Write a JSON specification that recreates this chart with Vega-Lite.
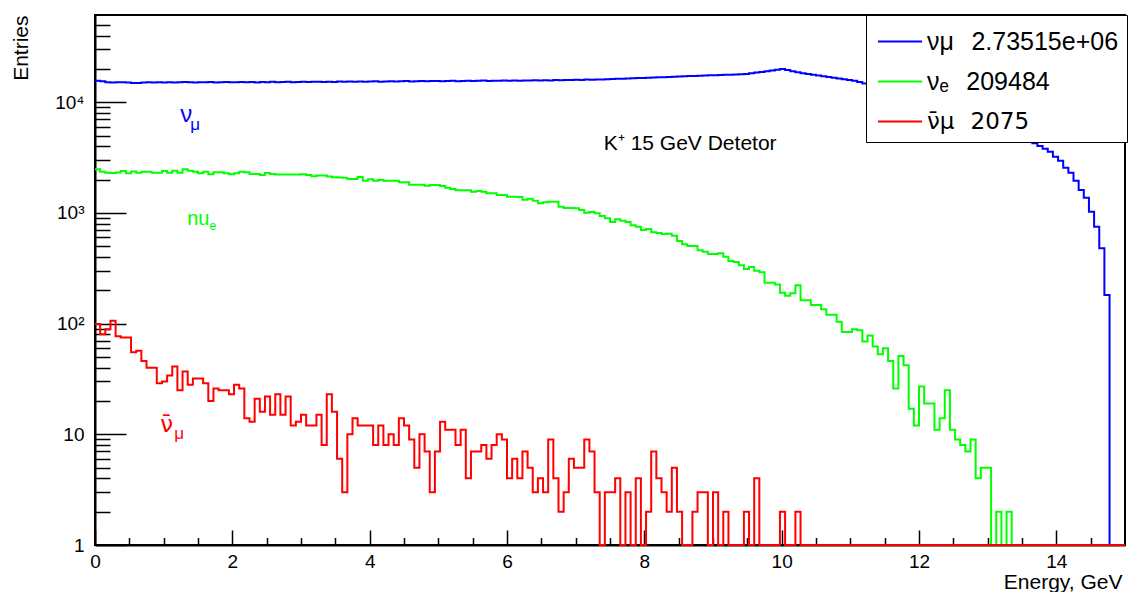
{
  "$schema": "https://vega.github.io/schema/vega-lite/v6.json",
  "width": 1030,
  "height": 530,
  "autosize": "none",
  "padding": {"left": 95, "top": 15, "right": 6, "bottom": 47},
  "background": "white",
  "config": {
    "view": {"stroke": "black", "strokeWidth": 2},
    "font": "Liberation Sans",
    "axis": {"grid": false, "domainColor": "black", "tickColor": "black", "labelColor": "black", "titleColor": "black", "domainWidth": 2, "tickWidth": 1.5, "labelFont": "Liberation Sans", "titleFont": "Liberation Sans", "titleFontWeight": "normal", "zindex": 0, "labelOverlap": false, "labelFlush": false}
  },
  "datasets": {
    "hist": [
      {"E":0,"numu":15620,"nue":2480,"anumu":99},
      {"E":0.075,"numu":15480,"nue":2350,"anumu":80},
      {"E":0.15,"numu":15150,"nue":2310,"anumu":89},
      {"E":0.225,"numu":15100,"nue":2300,"anumu":106},
      {"E":0.3,"numu":15180,"nue":2320,"anumu":77},
      {"E":0.375,"numu":15120,"nue":2390,"anumu":75},
      {"E":0.45,"numu":15060,"nue":2280,"anumu":75},
      {"E":0.525,"numu":14950,"nue":2370,"anumu":55},
      {"E":0.6,"numu":14900,"nue":2310,"anumu":57},
      {"E":0.675,"numu":15100,"nue":2360,"anumu":46},
      {"E":0.75,"numu":15140,"nue":2350,"anumu":40},
      {"E":0.825,"numu":15080,"nue":2310,"anumu":40},
      {"E":0.9,"numu":15190,"nue":2310,"anumu":29},
      {"E":0.975,"numu":15110,"nue":2390,"anumu":30},
      {"E":1.05,"numu":15170,"nue":2310,"anumu":34},
      {"E":1.125,"numu":15080,"nue":2410,"anumu":41},
      {"E":1.2,"numu":15150,"nue":2310,"anumu":25},
      {"E":1.275,"numu":15230,"nue":2480,"anumu":37},
      {"E":1.35,"numu":15120,"nue":2400,"anumu":28},
      {"E":1.425,"numu":15090,"nue":2350,"anumu":32},
      {"E":1.5,"numu":15180,"nue":2280,"anumu":32},
      {"E":1.575,"numu":15140,"nue":2350,"anumu":29},
      {"E":1.65,"numu":15210,"nue":2240,"anumu":20},
      {"E":1.725,"numu":15080,"nue":2330,"anumu":26},
      {"E":1.8,"numu":15160,"nue":2330,"anumu":25},
      {"E":1.875,"numu":15230,"nue":2280,"anumu":25},
      {"E":1.95,"numu":15120,"nue":2240,"anumu":23},
      {"E":2.025,"numu":15190,"nue":2280,"anumu":28},
      {"E":2.1,"numu":15260,"nue":2350,"anumu":26},
      {"E":2.175,"numu":15140,"nue":2330,"anumu":14},
      {"E":2.25,"numu":15200,"nue":2250,"anumu":13},
      {"E":2.325,"numu":15110,"nue":2250,"anumu":21},
      {"E":2.4,"numu":15250,"nue":2200,"anumu":16},
      {"E":2.475,"numu":15180,"nue":2300,"anumu":22},
      {"E":2.55,"numu":15290,"nue":2250,"anumu":15},
      {"E":2.625,"numu":15150,"nue":2230,"anumu":23},
      {"E":2.7,"numu":15230,"nue":2230,"anumu":15},
      {"E":2.775,"numu":15300,"nue":2230,"anumu":22},
      {"E":2.85,"numu":15180,"nue":2230,"anumu":12},
      {"E":2.925,"numu":15260,"nue":2230,"anumu":13},
      {"E":3.0,"numu":15320,"nue":2240,"anumu":15},
      {"E":3.075,"numu":15220,"nue":2200,"anumu":12},
      {"E":3.15,"numu":15290,"nue":2150,"anumu":12},
      {"E":3.225,"numu":15350,"nue":2180,"anumu":15},
      {"E":3.3,"numu":15240,"nue":2180,"anumu":8},
      {"E":3.375,"numu":15310,"nue":2130,"anumu":23},
      {"E":3.45,"numu":15200,"nue":2100,"anumu":16},
      {"E":3.525,"numu":15380,"nue":2090,"anumu":6},
      {"E":3.6,"numu":15300,"nue":2080,"anumu":3},
      {"E":3.675,"numu":15360,"nue":2024,"anumu":10},
      {"E":3.75,"numu":15280,"nue":2024,"anumu":14},
      {"E":3.825,"numu":15410,"nue":2110,"anumu":12},
      {"E":3.9,"numu":15330,"nue":1955,"anumu":12},
      {"E":3.975,"numu":15390,"nue":2013,"anumu":12},
      {"E":4.05,"numu":15450,"nue":1955,"anumu":8},
      {"E":4.125,"numu":15340,"nue":1982,"anumu":12},
      {"E":4.2,"numu":15420,"nue":1955,"anumu":8},
      {"E":4.275,"numu":15480,"nue":1955,"anumu":10},
      {"E":4.35,"numu":15390,"nue":1955,"anumu":8},
      {"E":4.425,"numu":15460,"nue":1890,"anumu":14},
      {"E":4.5,"numu":15520,"nue":1890,"anumu":12},
      {"E":4.575,"numu":15410,"nue":1798,"anumu":9},
      {"E":4.65,"numu":15490,"nue":1798,"anumu":5},
      {"E":4.725,"numu":15550,"nue":1798,"anumu":10},
      {"E":4.8,"numu":15440,"nue":1762,"anumu":7},
      {"E":4.875,"numu":15520,"nue":1789,"anumu":3},
      {"E":4.95,"numu":15580,"nue":1789,"anumu":7},
      {"E":5.025,"numu":15480,"nue":1750,"anumu":13},
      {"E":5.1,"numu":15560,"nue":1690,"anumu":11},
      {"E":5.175,"numu":15620,"nue":1644,"anumu":11},
      {"E":5.25,"numu":15510,"nue":1600,"anumu":8},
      {"E":5.325,"numu":15590,"nue":1600,"anumu":11},
      {"E":5.4,"numu":15650,"nue":1600,"anumu":4},
      {"E":5.475,"numu":15540,"nue":1555,"anumu":7},
      {"E":5.55,"numu":15620,"nue":1580,"anumu":7},
      {"E":5.625,"numu":15680,"nue":1555,"anumu":8},
      {"E":5.7,"numu":15570,"nue":1503,"anumu":6},
      {"E":5.775,"numu":15650,"nue":1503,"anumu":8},
      {"E":5.85,"numu":15600,"nue":1452,"anumu":10},
      {"E":5.925,"numu":15700,"nue":1452,"anumu":9},
      {"E":6.0,"numu":15640,"nue":1400,"anumu":4},
      {"E":6.075,"numu":15720,"nue":1400,"anumu":6},
      {"E":6.15,"numu":15660,"nue":1392,"anumu":4},
      {"E":6.225,"numu":15750,"nue":1316,"anumu":7},
      {"E":6.3,"numu":15690,"nue":1345,"anumu":5},
      {"E":6.375,"numu":15780,"nue":1288,"anumu":3},
      {"E":6.45,"numu":15720,"nue":1221,"anumu":4},
      {"E":6.525,"numu":15810,"nue":1246,"anumu":3},
      {"E":6.6,"numu":15760,"nue":1263,"anumu":9},
      {"E":6.675,"numu":15850,"nue":1263,"anumu":4},
      {"E":6.75,"numu":15800,"nue":1135,"anumu":2},
      {"E":6.825,"numu":15890,"nue":1107,"anumu":3},
      {"E":6.9,"numu":15860,"nue":1107,"anumu":6},
      {"E":6.975,"numu":15950,"nue":1100,"anumu":5},
      {"E":7.05,"numu":15920,"nue":1062,"anumu":5},
      {"E":7.125,"numu":16010,"nue":1004,"anumu":9},
      {"E":7.2,"numu":15980,"nue":1019,"anumu":7},
      {"E":7.275,"numu":16080,"nue":991,"anumu":3},
      {"E":7.35,"numu":16060,"nue":937,"anumu":0},
      {"E":7.425,"numu":16150,"nue":893,"anumu":3},
      {"E":7.5,"numu":16200,"nue":827,"anumu":3},
      {"E":7.575,"numu":16260,"nue":875,"anumu":4},
      {"E":7.65,"numu":16310,"nue":851,"anumu":0},
      {"E":7.725,"numu":16390,"nue":827,"anumu":3},
      {"E":7.8,"numu":16440,"nue":773,"anumu":0},
      {"E":7.875,"numu":16520,"nue":750,"anumu":4},
      {"E":7.95,"numu":16580,"nue":701,"anumu":0},
      {"E":8.025,"numu":16640,"nue":716,"anumu":2},
      {"E":8.1,"numu":16720,"nue":668,"anumu":7},
      {"E":8.175,"numu":16790,"nue":658,"anumu":4},
      {"E":8.25,"numu":16850,"nue":645,"anumu":3},
      {"E":8.325,"numu":16930,"nue":649,"anumu":2},
      {"E":8.4,"numu":17000,"nue":622,"anumu":5},
      {"E":8.475,"numu":17080,"nue":557,"anumu":2},
      {"E":8.55,"numu":17150,"nue":520,"anumu":0},
      {"E":8.625,"numu":17230,"nue":502,"anumu":0},
      {"E":8.7,"numu":17300,"nue":502,"anumu":2},
      {"E":8.775,"numu":17360,"nue":459,"anumu":3},
      {"E":8.85,"numu":17420,"nue":446,"anumu":3},
      {"E":8.925,"numu":17490,"nue":426,"anumu":0},
      {"E":9.0,"numu":17550,"nue":426,"anumu":3},
      {"E":9.075,"numu":17620,"nue":432,"anumu":0},
      {"E":9.15,"numu":17680,"nue":402,"anumu":2},
      {"E":9.225,"numu":17750,"nue":367,"anumu":0},
      {"E":9.3,"numu":17820,"nue":360,"anumu":0},
      {"E":9.375,"numu":17900,"nue":336,"anumu":0},
      {"E":9.45,"numu":18000,"nue":311,"anumu":2},
      {"E":9.525,"numu":18250,"nue":324,"anumu":0},
      {"E":9.6,"numu":18520,"nue":301,"anumu":4},
      {"E":9.675,"numu":18800,"nue":291,"anumu":0},
      {"E":9.75,"numu":19100,"nue":234,"anumu":0},
      {"E":9.825,"numu":19400,"nue":234,"anumu":0},
      {"E":9.9,"numu":19700,"nue":226,"anumu":0},
      {"E":9.975,"numu":19960,"nue":190,"anumu":2},
      {"E":10.05,"numu":19530,"nue":179,"anumu":0},
      {"E":10.125,"numu":19100,"nue":188,"anumu":0},
      {"E":10.2,"numu":18680,"nue":222,"anumu":2},
      {"E":10.275,"numu":18250,"nue":163,"anumu":0},
      {"E":10.35,"numu":17960,"nue":163,"anumu":0},
      {"E":10.425,"numu":17680,"nue":147,"anumu":0},
      {"E":10.5,"numu":17420,"nue":147,"anumu":0},
      {"E":10.575,"numu":17170,"nue":135,"anumu":0},
      {"E":10.65,"numu":16900,"nue":120,"anumu":0},
      {"E":10.725,"numu":16650,"nue":120,"anumu":0},
      {"E":10.8,"numu":16400,"nue":104,"anumu":0},
      {"E":10.875,"numu":16150,"nue":84,"anumu":0},
      {"E":10.95,"numu":15880,"nue":84,"anumu":0},
      {"E":11.025,"numu":15630,"nue":89,"anumu":0},
      {"E":11.1,"numu":15250,"nue":87,"anumu":0},
      {"E":11.175,"numu":14800,"nue":69,"anumu":0},
      {"E":11.25,"numu":14450,"nue":78,"anumu":0},
      {"E":11.325,"numu":14180,"nue":62,"anumu":0},
      {"E":11.4,"numu":13900,"nue":53,"anumu":0},
      {"E":11.475,"numu":13600,"nue":60,"anumu":0},
      {"E":11.55,"numu":13300,"nue":46,"anumu":0},
      {"E":11.625,"numu":12980,"nue":26,"anumu":0},
      {"E":11.7,"numu":12660,"nue":51,"anumu":0},
      {"E":11.775,"numu":12330,"nue":42,"anumu":0},
      {"E":11.85,"numu":11990,"nue":17,"anumu":0},
      {"E":11.925,"numu":11650,"nue":12,"anumu":0},
      {"E":12.0,"numu":11310,"nue":27,"anumu":0},
      {"E":12.075,"numu":10960,"nue":19,"anumu":0},
      {"E":12.15,"numu":10610,"nue":19,"anumu":0},
      {"E":12.225,"numu":10250,"nue":11,"anumu":0},
      {"E":12.3,"numu":9900,"nue":14,"anumu":0},
      {"E":12.375,"numu":9550,"nue":25,"anumu":0},
      {"E":12.45,"numu":9200,"nue":11,"anumu":0},
      {"E":12.525,"numu":8850,"nue":9,"anumu":0},
      {"E":12.6,"numu":8500,"nue":8,"anumu":0},
      {"E":12.675,"numu":8160,"nue":7,"anumu":0},
      {"E":12.75,"numu":7820,"nue":9,"anumu":0},
      {"E":12.825,"numu":7490,"nue":4,"anumu":0},
      {"E":12.9,"numu":7160,"nue":5,"anumu":0},
      {"E":12.975,"numu":6840,"nue":5,"anumu":0},
      {"E":13.05,"numu":6520,"nue":0,"anumu":0},
      {"E":13.125,"numu":6210,"nue":2,"anumu":0},
      {"E":13.2,"numu":5910,"nue":0,"anumu":0},
      {"E":13.275,"numu":5620,"nue":2,"anumu":0},
      {"E":13.35,"numu":5330,"nue":0,"anumu":0},
      {"E":13.425,"numu":5050,"nue":0,"anumu":0},
      {"E":13.5,"numu":4780,"nue":0,"anumu":0},
      {"E":13.575,"numu":4520,"nue":0,"anumu":0},
      {"E":13.65,"numu":4270,"nue":0,"anumu":0},
      {"E":13.725,"numu":4030,"nue":0,"anumu":0},
      {"E":13.8,"numu":3800,"nue":0,"anumu":0},
      {"E":13.875,"numu":3570,"nue":0,"anumu":0},
      {"E":13.95,"numu":3220,"nue":0,"anumu":0},
      {"E":14.025,"numu":2963,"nue":0,"anumu":0},
      {"E":14.1,"numu":2560,"nue":0,"anumu":0},
      {"E":14.175,"numu":2307,"nue":0,"anumu":0},
      {"E":14.25,"numu":1954,"nue":0,"anumu":0},
      {"E":14.325,"numu":1610,"nue":0,"anumu":0},
      {"E":14.4,"numu":1371,"nue":0,"anumu":0},
      {"E":14.475,"numu":1026,"nue":0,"anumu":0},
      {"E":14.55,"numu":750,"nue":0,"anumu":0},
      {"E":14.625,"numu":479,"nue":0,"anumu":0},
      {"E":14.7,"numu":181,"nue":0,"anumu":0},
      {"E":14.775,"numu":0,"nue":0,"anumu":0},
      {"E":14.85,"numu":0,"nue":0,"anumu":0},
      {"E":14.925,"numu":0,"nue":0,"anumu":0},
      {"E":15,"numu":0,"nue":0,"anumu":0}
    ]
  },
  "layer": [
    {
      "data": {"name": "hist"},
      "transform": [{"fold": ["numu", "nue", "anumu"], "as": ["series", "n"]}],
      "mark": {"type": "line", "interpolate": "step-after", "strokeWidth": 2, "invalid": null},
      "encoding": {
        "x": {
          "field": "E", "type": "quantitative",
          "scale": {"domain": [0, 15], "nice": false, "zero": false},
          "axis": {"orient": "bottom", "values": [0, 2, 4, 6, 8, 10, 12, 14], "tickSize": -15, "labelPadding": 22, "labelFontSize": 19, "title": "Energy, GeV", "titleFontSize": 21, "titleX": 1027, "titleY": 43, "titleAlign": "right", "titleBaseline": "alphabetic"}
        },
        "y": {
          "field": "n", "type": "quantitative",
          "scale": {"type": "log", "domain": [1, 61400], "nice": false, "clamp": true},
          "axis": {"orient": "left", "values": [1, 10, 100, 1000, 10000], "tickSize": -31, "labelPadding": 42, "labelFontSize": 19, "labelExpr": "datum.value == 1 ? '1' : datum.value == 10 ? '10' : datum.value == 100 ? '10²' : datum.value == 1000 ? '10³' : '10⁴'", "title": "Entries", "titleFontSize": 21, "titleAngle": -90, "titleX": -68, "titleY": 0, "titleAlign": "right", "titleBaseline": "alphabetic"}
        },
        "color": {
          "field": "series", "type": "nominal",
          "scale": {"domain": ["numu", "nue", "anumu"], "range": ["#0000ff", "#00ff00", "#ff0000"]},
          "legend": {"orient": "none", "legendX": 771, "legendY": 0, "title": null, "fillColor": "white", "strokeColor": "black", "padding": 8, "symbolType": "M-0.83,0H1.69", "symbolSize": 1225, "symbolStrokeWidth": 2, "rowPadding": 8, "labelOffset": 16, "labelFontSize": 25, "labelFont": "Liberation Sans", "labelColor": "black", "labelLimit": 400,
            "labelExpr": "datum.label == 'numu' ? 'νμ\u2002\u20092.73515e+06' : datum.label == 'nue' ? 'νₑ\u2002\u2009209484' : 'ν\u0304μ\u2002\u20092075'",
            "encode": {"labels": {"update": {"font": {"signal": "datum.value == 'anumu' ? 'DejaVu Sans' : 'Liberation Sans'"}, "fontSize": {"signal": "datum.value == 'anumu' ? 23 : 25"}}}}}
        }
      }
    },
    {
      "data": {"values": [{}]},
      "mark": {"type": "text", "text": "K⁺ 15 GeV Detetor", "fontSize": 21, "align": "left", "baseline": "alphabetic", "color": "black", "font": "Liberation Sans"},
      "encoding": {
        "x": {"datum": 7.41, "type": "quantitative", "scale": {"domain": [0, 15], "nice": false, "zero": false},
          "axis": {"orient": "bottom", "values": [0.5, 1, 1.5, 2.5, 3, 3.5, 4.5, 5, 5.5, 6.5, 7, 7.5, 8.5, 9, 9.5, 10.5, 11, 11.5, 12.5, 13, 13.5, 14.5], "labels": false, "domain": false, "tickSize": -7.5, "title": null}},
        "y": {"datum": 3700, "type": "quantitative", "scale": {"type": "log", "domain": [1, 61400], "nice": false, "clamp": true},
          "axis": {"orient": "left", "values": [2, 3, 4, 5, 6, 7, 8, 9, 20, 30, 40, 50, 60, 70, 80, 90, 200, 300, 400, 500, 600, 700, 800, 900, 2000, 3000, 4000, 5000, 6000, 7000, 8000, 9000, 20000, 30000, 40000, 50000], "labels": false, "domain": false, "tickSize": -15, "title": null}}
      }
    },
    {
      "data": {"values": [{}]},
      "mark": {"type": "text", "text": "ν", "fontSize": 24, "align": "left", "baseline": "alphabetic", "color": "#0000ff", "font": "Liberation Sans"},
      "encoding": {"x": {"datum": 1.24, "type": "quantitative", "axis": null}, "y": {"datum": 6670, "type": "quantitative", "axis": null}}
    },
    {
      "data": {"values": [{}]},
      "mark": {"type": "text", "text": "μ", "fontSize": 17, "align": "left", "baseline": "alphabetic", "color": "#0000ff", "font": "Liberation Sans"},
      "encoding": {"x": {"datum": 1.386, "type": "quantitative", "axis": null}, "y": {"datum": 5610, "type": "quantitative", "axis": null}}
    },
    {
      "data": {"values": [{}]},
      "mark": {"type": "text", "text": "nu", "fontSize": 20, "align": "left", "baseline": "alphabetic", "color": "#00ff00", "font": "Liberation Sans"},
      "encoding": {"x": {"datum": 1.342, "type": "quantitative", "axis": null}, "y": {"datum": 778, "type": "quantitative", "axis": null}}
    },
    {
      "data": {"values": [{}]},
      "mark": {"type": "text", "text": "e", "fontSize": 13, "align": "left", "baseline": "alphabetic", "color": "#00ff00", "font": "Liberation Sans"},
      "encoding": {"x": {"datum": 1.664, "type": "quantitative", "axis": null}, "y": {"datum": 701, "type": "quantitative", "axis": null}}
    },
    {
      "data": {"values": [{}]},
      "mark": {"type": "text", "text": "ν\u0304", "fontSize": 23, "align": "left", "baseline": "alphabetic", "color": "#ff0000", "font": "DejaVu Sans"},
      "encoding": {"x": {"datum": 0.949, "type": "quantitative", "axis": null}, "y": {"datum": 10.5, "type": "quantitative", "axis": null}}
    },
    {
      "data": {"values": [{}]},
      "mark": {"type": "text", "text": "μ", "fontSize": 17, "align": "left", "baseline": "alphabetic", "color": "#ff0000", "font": "Liberation Sans"},
      "encoding": {"x": {"datum": 1.153, "type": "quantitative", "axis": null}, "y": {"datum": 9.07, "type": "quantitative", "axis": null}}
    }
  ],
  "resolve": {"axis": {"x": "independent", "y": "independent"}}
}
